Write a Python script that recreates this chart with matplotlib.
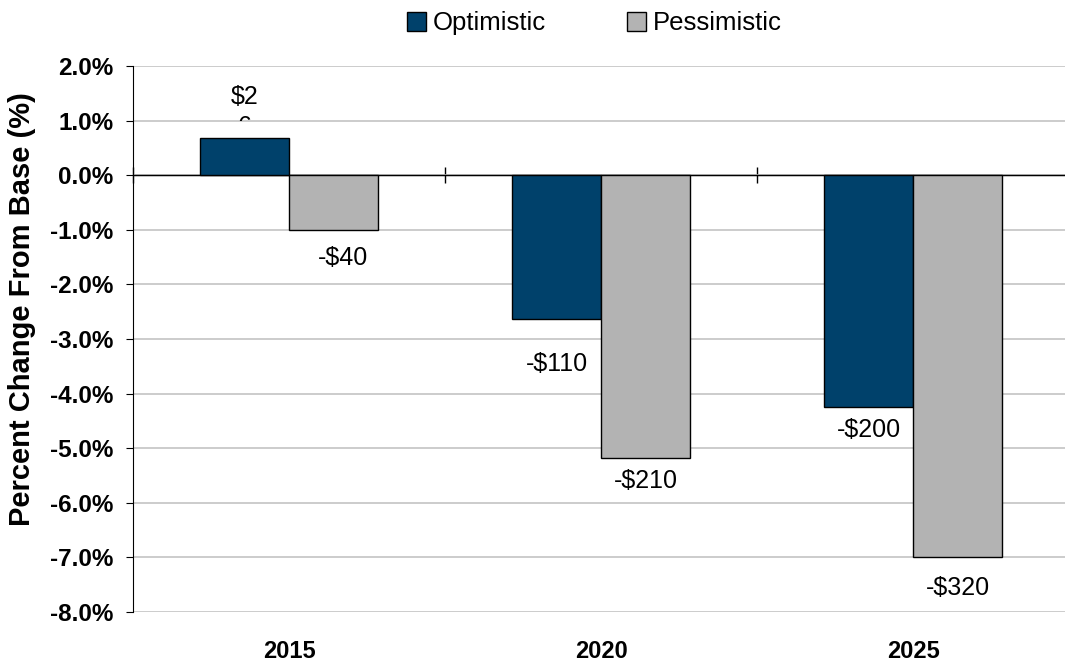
import matplotlib
matplotlib.use("Agg")
import matplotlib.pyplot as plt
from matplotlib.transforms import Bbox, TransformedBbox
from matplotlib.ticker import FuncFormatter
from matplotlib.patches import Patch

plt.rcParams['font.family'] = ['Liberation Sans', 'DejaVu Sans']

years = ['2015', '2020', '2025']
optimistic = [0.68, -2.64, -4.25]
pessimistic = [-1.0, -5.18, -7.0]
opt_labels = ['$2\n6', '-$110', '-$200']
pes_labels = ['-$40', '-$210', '-$320']

navy = '#00416B'
grey = '#B3B3B3'

fig = plt.figure(figsize=(10.65, 6.63), dpi=100)
ax = fig.add_axes([0.1249, 0.0769, 0.8751, 0.8236])

x = list(range(len(years)))
w = 0.285
ax.bar([i - w / 2 for i in x], optimistic, w, color=navy, edgecolor='black', linewidth=1, zorder=3)
ax.bar([i + w / 2 for i in x], pessimistic, w, color=grey, edgecolor='black', linewidth=1, zorder=3)

# value labels, placed by hand like the original
opt_y = [1.16, -3.46, -4.67]
pes_y = [-1.52, -5.60, -7.56]
for i in x:
    t = ax.text(i - w / 2, opt_y[i], opt_labels[i], ha='center', va='center',
                fontsize=18, linespacing=1.34, zorder=4)
    if i == 0:
        # second line of "$26" is hidden below the 1% line
        t.set_clip_box(TransformedBbox(Bbox([[-0.5, 1.0], [0.5, 3.0]]), ax.transData))
        t.set_clip_on(True)
    ax.text(i + w / 2 + (0.03 if i == 0 else 0), pes_y[i], pes_labels[i],
            ha='center', va='center', fontsize=18, zorder=4)

ax.set_xlim(-0.5, 2.487)
ax.set_ylim(-8, 2)
ax.set_yticks(range(-8, 3))
ax.yaxis.set_major_formatter(FuncFormatter(lambda v, p: f'{v:.1f}%'))
ax.grid(axis='y', color='#C4C4C4', linewidth=1.2, zorder=0)
ax.set_axisbelow(True)
ax.axhline(0, color='black', linewidth=1, zorder=2)

for s in ['top', 'right', 'bottom']:
    ax.spines[s].set_visible(False)
ax.spines['left'].set_color('black')

ax.tick_params(axis='y', direction='out', length=5, pad=9, labelsize=17.5)
for lbl in ax.get_yticklabels():
    lbl.set_fontweight('bold')
ax.set_xticks(x)
ax.set_xticklabels(years, fontsize=17, fontweight='bold')
ax.tick_params(axis='x', length=0, pad=20)

ax.set_ylabel('Percent Change From Base (%)', fontsize=21, fontweight='bold')
ax.yaxis.set_label_coords(-0.104, 0.554)

# zero line with category dividers
zero = ax.secondary_xaxis(0.8)
zero.set_xticks([-0.5, 0.5, 1.5])
zero.set_xticklabels(['', '', ''])
zero.tick_params(direction='inout', length=12, width=1, color='black')
zero.spines['bottom'].set_color('black')
zero.spines['bottom'].set_linewidth(1)

handles = [Patch(facecolor=navy, edgecolor='black', label='Optimistic'),
           Patch(facecolor=grey, edgecolor='black', label='Pessimistic')]
fig.legend(handles=handles, loc='upper center', bbox_to_anchor=(0.558, 1.018), ncol=2,
           frameon=False, fontsize=18.5, handlelength=0.75, handleheight=0.75,
           handletextpad=0.25, columnspacing=3.17)

fig.savefig('out.png', dpi=100)
